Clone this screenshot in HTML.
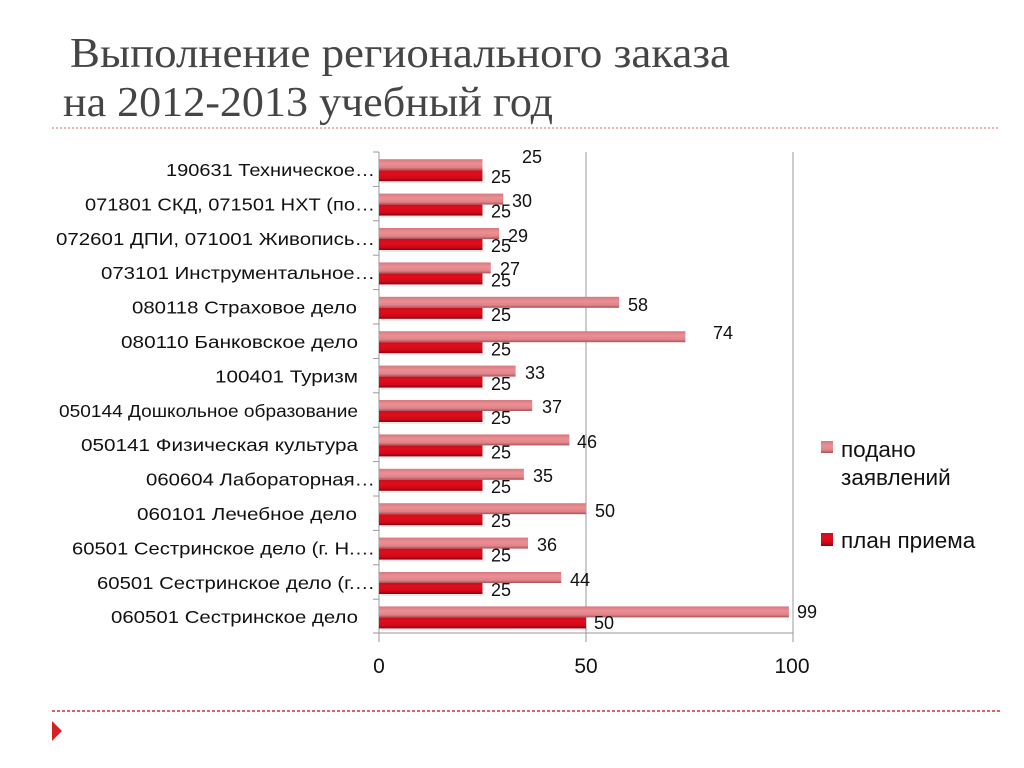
<!DOCTYPE html>
<html><head><meta charset="utf-8"><style>
html,body{margin:0;padding:0;background:#fff;}
svg{display:block;}
</style></head><body>
<svg width="1024" height="768" viewBox="0 0 1024 768" xmlns="http://www.w3.org/2000/svg">
<defs>
<linearGradient id="pk" x1="0" y1="0" x2="0" y2="1">
<stop offset="0" stop-color="#d67a80"/><stop offset="0.4" stop-color="#ec8e94"/><stop offset="0.75" stop-color="#e0848a"/><stop offset="1" stop-color="#a85058"/>
</linearGradient>
<linearGradient id="rd" x1="0" y1="0" x2="0" y2="1">
<stop offset="0" stop-color="#c8101c"/><stop offset="0.35" stop-color="#e20c1c"/><stop offset="0.75" stop-color="#cc0a18"/><stop offset="1" stop-color="#880010"/>
</linearGradient>
</defs>
<rect width="1024" height="768" fill="#fff"/>
<!-- title -->
<g font-family="'Liberation Serif', 'Noto Serif CJK SC', serif" fill="#454545" font-size="42">
<text x="70" y="67" textLength="660" lengthAdjust="spacingAndGlyphs">Выполнение регионального заказа</text>
<text x="63" y="116" textLength="490" lengthAdjust="spacingAndGlyphs">на 2012-2013 учебный год</text>
</g>
<line x1="52" y1="128" x2="1000" y2="128" stroke="#dc9a9c" stroke-width="1.5" stroke-dasharray="2,2"/>
<line x1="52" y1="711" x2="1000" y2="711" stroke="#c8303c" stroke-width="1.5" stroke-dasharray="3,2"/>
<polygon points="52,721 62,731 52,741" fill="#d42020"/>

<!-- grid & axes -->
<g stroke="#9a9a9a" stroke-width="1">
<line x1="586" y1="152" x2="586" y2="642"/>
<line x1="793" y1="152" x2="793" y2="642"/>
<line x1="379" y1="152" x2="379" y2="642"/>
<line x1="373" y1="633" x2="793" y2="633"/>
<line x1="373" y1="152" x2="379" y2="152"/><line x1="373" y1="186.4" x2="379" y2="186.4"/><line x1="373" y1="220.8" x2="379" y2="220.8"/><line x1="373" y1="255.2" x2="379" y2="255.2"/><line x1="373" y1="289.6" x2="379" y2="289.6"/><line x1="373" y1="324" x2="379" y2="324"/><line x1="373" y1="358.4" x2="379" y2="358.4"/><line x1="373" y1="392.8" x2="379" y2="392.8"/><line x1="373" y1="427.2" x2="379" y2="427.2"/><line x1="373" y1="461.6" x2="379" y2="461.6"/><line x1="373" y1="496" x2="379" y2="496"/><line x1="373" y1="530.4" x2="379" y2="530.4"/><line x1="373" y1="564.8" x2="379" y2="564.8"/><line x1="373" y1="599.2" x2="379" y2="599.2"/>
</g>

<g transform="translate(0,1)">
<!-- faint shadows -->
<g fill="#000" opacity="0.08">
<rect x="381" y="180.2" width="103.5" height="2"/><rect x="381" y="214.6" width="103.5" height="2"/><rect x="381" y="249" width="103.5" height="2"/><rect x="381" y="283.4" width="103.5" height="2"/><rect x="381" y="317.8" width="103.5" height="2"/><rect x="381" y="352.2" width="103.5" height="2"/><rect x="381" y="386.6" width="103.5" height="2"/><rect x="381" y="421" width="103.5" height="2"/><rect x="381" y="455.4" width="103.5" height="2"/><rect x="381" y="489.8" width="103.5" height="2"/><rect x="381" y="524.2" width="103.5" height="2"/><rect x="381" y="558.6" width="103.5" height="2"/><rect x="381" y="593" width="103.5" height="2"/><rect x="381" y="627.4" width="207" height="2"/>
</g>
<g fill="url(#pk)">
<rect x="379" y="158.2" width="103.5" height="11"/>
<rect x="379" y="192.6" width="124.2" height="11"/>
<rect x="379" y="227" width="120.1" height="11"/>
<rect x="379" y="261.4" width="111.8" height="11"/>
<rect x="379" y="295.8" width="240.1" height="11"/>
<rect x="379" y="330.2" width="306.4" height="11"/>
<rect x="379" y="364.6" width="136.6" height="11"/>
<rect x="379" y="399" width="153.2" height="11"/>
<rect x="379" y="433.4" width="190.4" height="11"/>
<rect x="379" y="467.8" width="144.9" height="11"/>
<rect x="379" y="502.2" width="207" height="11"/>
<rect x="379" y="536.6" width="149" height="11"/>
<rect x="379" y="571" width="182.2" height="11"/>
<rect x="379" y="605.4" width="409.9" height="11"/>
</g>
<g fill="url(#rd)">
<rect x="379" y="169.2" width="103.5" height="11"/>
<rect x="379" y="203.6" width="103.5" height="11"/>
<rect x="379" y="238" width="103.5" height="11"/>
<rect x="379" y="272.4" width="103.5" height="11"/>
<rect x="379" y="306.8" width="103.5" height="11"/>
<rect x="379" y="341.2" width="103.5" height="11"/>
<rect x="379" y="375.6" width="103.5" height="11"/>
<rect x="379" y="410" width="103.5" height="11"/>
<rect x="379" y="444.4" width="103.5" height="11"/>
<rect x="379" y="478.8" width="103.5" height="11"/>
<rect x="379" y="513.2" width="103.5" height="11"/>
<rect x="379" y="547.6" width="103.5" height="11"/>
<rect x="379" y="582" width="103.5" height="11"/>
<rect x="379" y="616.4" width="207" height="11"/>
</g>
</g>

<!-- value labels -->
<g font-family="'Liberation Sans', sans-serif" font-size="18" fill="#111">
<text x="522" y="163">25</text>
<text x="512" y="207">30</text>
<text x="508" y="242">29</text>
<text x="500" y="275">27</text>
<text x="628" y="311">58</text>
<text x="713" y="339">74</text>
<text x="525" y="379">33</text>
<text x="542" y="413">37</text>
<text x="577" y="448">46</text>
<text x="533" y="482">35</text>
<text x="595" y="517">50</text>
<text x="537" y="551">36</text>
<text x="570" y="586">44</text>
<text x="797" y="618">99</text>

<text x="491" y="183">25</text>
<text x="491" y="217.5">25</text>
<text x="491" y="252">25</text>
<text x="491" y="286.5">25</text>
<text x="491" y="321">25</text>
<text x="491" y="355.5">25</text>
<text x="491" y="390">25</text>
<text x="491" y="424">25</text>
<text x="491" y="458.5">25</text>
<text x="491" y="493">25</text>
<text x="491" y="527">25</text>
<text x="491" y="561.5">25</text>
<text x="491" y="596">25</text>
<text x="594" y="629">50</text>
</g>

<!-- category labels -->
<g font-family="'Liberation Sans', sans-serif" font-size="17.5" fill="#111">
<text x="166" y="176" textLength="209" lengthAdjust="spacingAndGlyphs">190631 Техническое…</text>
<text x="85" y="210.4" textLength="290" lengthAdjust="spacingAndGlyphs">071801 СКД, 071501 НХТ (по…</text>
<text x="56" y="244.8" textLength="319" lengthAdjust="spacingAndGlyphs">072601 ДПИ, 071001 Живопись…</text>
<text x="101" y="279.2" textLength="274" lengthAdjust="spacingAndGlyphs">073101 Инструментальное…</text>
<text x="132" y="313.6" textLength="225" lengthAdjust="spacingAndGlyphs">080118 Страховое дело</text>
<text x="121" y="348" textLength="237" lengthAdjust="spacingAndGlyphs">080110 Банковское дело</text>
<text x="215" y="382.4" textLength="143" lengthAdjust="spacingAndGlyphs">100401 Туризм</text>
<text x="59" y="416.8" textLength="299" lengthAdjust="spacingAndGlyphs">050144 Дошкольное образование</text>
<text x="81" y="451.2" textLength="277" lengthAdjust="spacingAndGlyphs">050141 Физическая культура</text>
<text x="146" y="485.6" textLength="229" lengthAdjust="spacingAndGlyphs">060604 Лабораторная…</text>
<text x="137" y="520" textLength="220" lengthAdjust="spacingAndGlyphs">060101 Лечебное дело</text>
<text x="72" y="554.4" textLength="303" lengthAdjust="spacingAndGlyphs">60501 Сестринское дело (г. Н.…</text>
<text x="97" y="588.8" textLength="278" lengthAdjust="spacingAndGlyphs">60501 Сестринское дело (г.…</text>
<text x="111" y="623.2" textLength="247" lengthAdjust="spacingAndGlyphs">060501 Сестринское дело</text>
</g>

<!-- axis labels -->
<g font-family="'Liberation Sans', sans-serif" font-size="21" fill="#111" text-anchor="middle">
<text x="379" y="673">0</text>
<text x="586" y="673">50</text>
<text x="792" y="673">100</text>
</g>

<!-- legend -->
<rect x="821" y="441" width="12" height="12" fill="url(#pk)"/>
<rect x="821" y="533" width="12" height="13" fill="url(#rd)"/>
<g font-family="'Liberation Sans', sans-serif" font-size="22.5" fill="#111">
<text x="841" y="457">подано</text>
<text x="841" y="485">заявлений</text>
<text x="841" y="548">план приема</text>
</g>
</svg>
</body></html>
